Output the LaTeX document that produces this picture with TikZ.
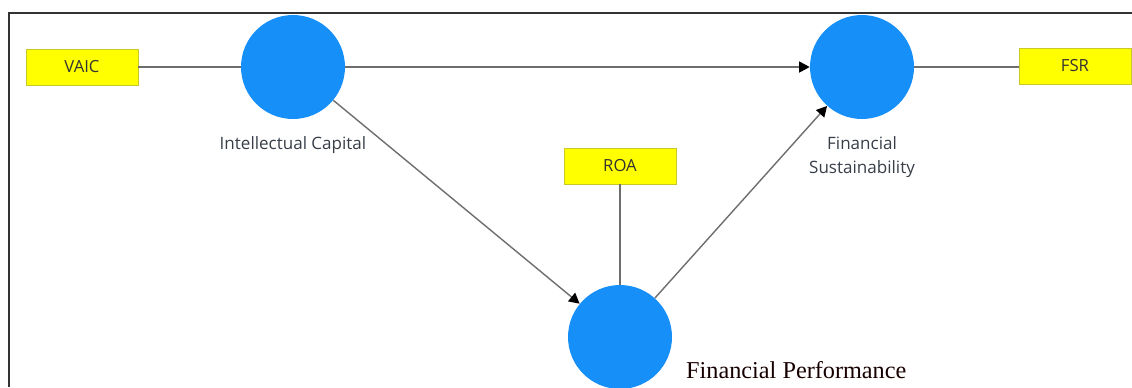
\documentclass[tikz,border=0pt]{standalone}
\usepackage{fontspec}
\setmainfont{Liberation Serif}
\setsansfont{Open Sans}
\usepackage{tikz}
\usetikzlibrary{positioning,arrows.meta}

\definecolor{lvblue}{RGB}{22,143,248}
\definecolor{lvyellow}{RGB}{255,255,0}
\definecolor{lvedge}{RGB}{200,200,40}
\definecolor{lvline}{RGB}{110,110,110}
\definecolor{lvtext}{RGB}{55,62,72}

\tikzset{
  latent/.style={circle, fill=lvblue, minimum size=2.08cm, inner sep=0pt},
  indic/.style={rectangle, draw=lvedge, fill=lvyellow, line width=0.4pt,
    minimum width=2.24cm, minimum height=0.72cm, inner sep=0pt,
    font=\sffamily\fontsize{9.5}{10}\selectfont, text=black!80},
  lvlabel/.style={font=\sffamily\fontsize{9.7}{13.6}\selectfont, text=lvtext, align=center},
  link/.style={draw=lvline, line width=0.8pt},
  path/.style={link, -{Triangle[length=0.21cm, width=0.22cm, color=black]}}
}

\begin{document}
\begin{tikzpicture}[x=0.02cm, y=-0.02cm]
  \useasboundingbox (0,0) rectangle (1132,387);
  \clip (0,0) rectangle (1132,387);
  % frame
  \draw[black!80, line width=1.1pt] (9,387) -- (9,13) -- (1132,13);

  \node[latent] (ic) at (293,67) {};
  \node[latent] (fs) at (862,67) {};
  \node[latent] (fp) at (620,337) {};

  \node[indic] (vaic) at (82,67) {VAIC};
  \node[indic] (fsr) at (1075,66) {FSR};
  \node[indic] (roa) at (620,166) {ROA};

  \node[lvlabel] (iclab) at (293,145) {Intellectual Capital};
  \node[lvlabel] (fslab) at (862,157) {Financial\\Sustainability};
  \node[font=\fontsize{13.8}{15}\selectfont, text=black!85!red!60!black, anchor=west] (fplab) at (680,370) {Financial Performance};

  \draw[link] (vaic) -- (ic);
  \draw[link] (fs) -- (fs -| fsr.west);
  \draw[link] (roa) -- (fp);

  \draw[path] (ic) -- (fs);
  \draw[path] (ic) -- (fp);
  \draw[path] (fp) -- (fs);
\end{tikzpicture}
\end{document}
